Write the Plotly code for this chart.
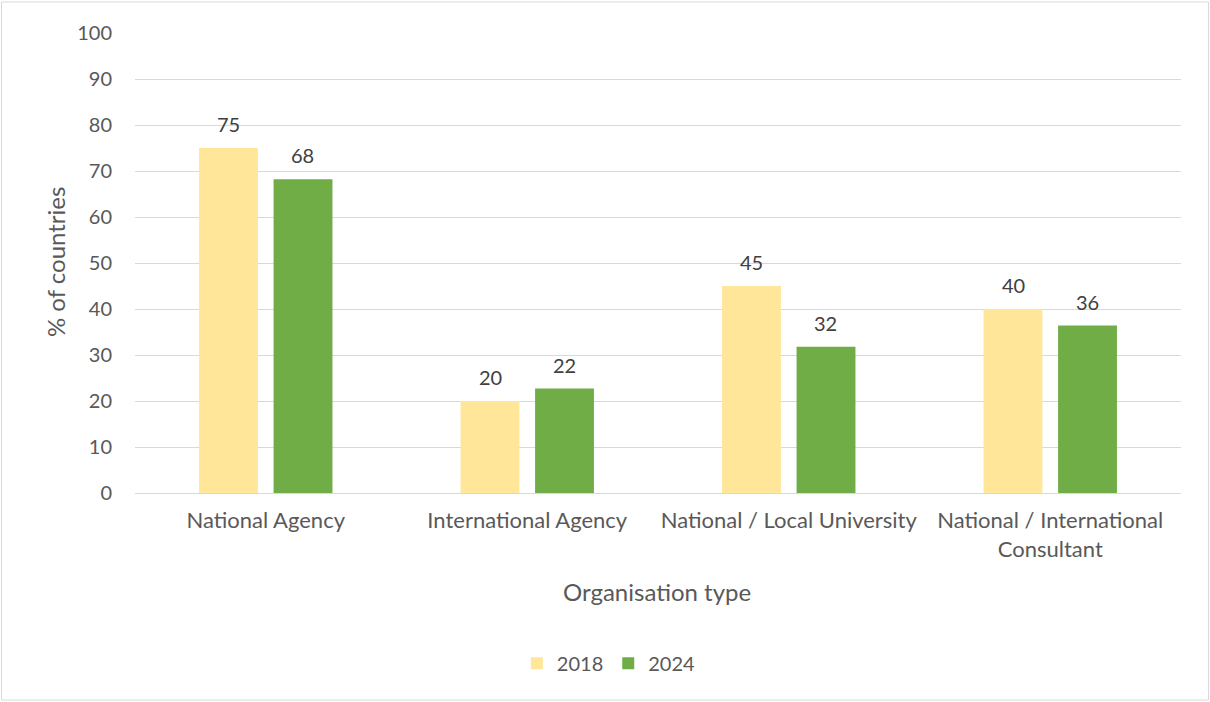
import plotly.graph_objects as go

categories = ["National Agency", "International Agency", "National / Local University",
              "National / International<br>Consultant"]
years = ["2018", "2024"]
values_2018 = [75, 20, 45, 40]
values_2024 = [68.2, 22.7, 31.8, 36.4]
labels_2018 = ["75", "20", "45", "40"]
labels_2024 = ["68", "22", "32", "36"]
y_ticks = [0, 10, 20, 30, 40, 50, 60, 70, 80, 90, 100]

FONT = "Lato, Open Sans, sans-serif"
GREY = "#595959"
COLORS = ["#FFE699", "#70AD47"]

fig = go.Figure()
for name, vals, col in zip(years, [values_2018, values_2024], COLORS):
    fig.add_trace(go.Bar(x=categories, y=vals, name=name, marker_color=col,
                         marker_line_width=0))

annots = []
for shift, vals, labs in [(-37, values_2018, labels_2018), (37, values_2024, labels_2024)]:
    for c, v, t in zip(categories, vals, labs):
        annots.append(dict(x=c, y=v, xref="x", yref="y", text=t, showarrow=False,
                           xshift=shift, yshift=24, xanchor="center", yanchor="middle",
                           font=dict(size=20, color="#404040", family=FONT)))

annots += [
    dict(text="Organisation type", xref="paper", yref="paper", x=0.499, y=-0.215,
         xanchor="center", yanchor="middle", showarrow=False,
         font=dict(size=24, color=GREY)),
    dict(text="% of countries", xref="paper", yref="paper", x=-0.0765, y=0.502,
         xanchor="center", yanchor="middle", textangle=-90, showarrow=False,
         font=dict(size=24, color=GREY)),
]

fig.update_layout(
    width=1210, height=702,
    margin=dict(l=135, r=29, t=33, b=209),
    paper_bgcolor="white", plot_bgcolor="white",
    barmode="group", bargap=0.43, bargroupgap=0.21,
    font=dict(family=FONT, color=GREY, size=20),
    showlegend=True,
    legend=dict(orientation="h", x=0.453, xanchor="center", y=-0.37, yanchor="middle",
                font=dict(size=20, color=GREY), traceorder="normal"),
    xaxis=dict(showgrid=False, showline=True, linecolor="#d9d9d9", linewidth=1,
               tickfont=dict(size=22, color=GREY), ticks="", ticklabelstandoff=8),
    yaxis=dict(range=[0, 100], tickvals=y_ticks, showgrid=True, gridcolor="#d9d9d9",
               gridwidth=1, zeroline=False, showline=False, ticks="",
               tickfont=dict(size=20, color=GREY), ticklabelstandoff=22),
    annotations=annots,
    shapes=[dict(type="rect", xref="paper", yref="paper",
                 x0=(1.5 - 135) / 1046, x1=(1208.5 - 135) / 1046,
                 y0=(493 - 700) / 460, y1=(493 - 2) / 460,
                 line=dict(color="#d9d9d9", width=1), fillcolor="rgba(0,0,0,0)", layer="below")],
)

fig.write_html("out.html", config={"displayModeBar": False},
               post_script="document.body.style.margin='0';")
